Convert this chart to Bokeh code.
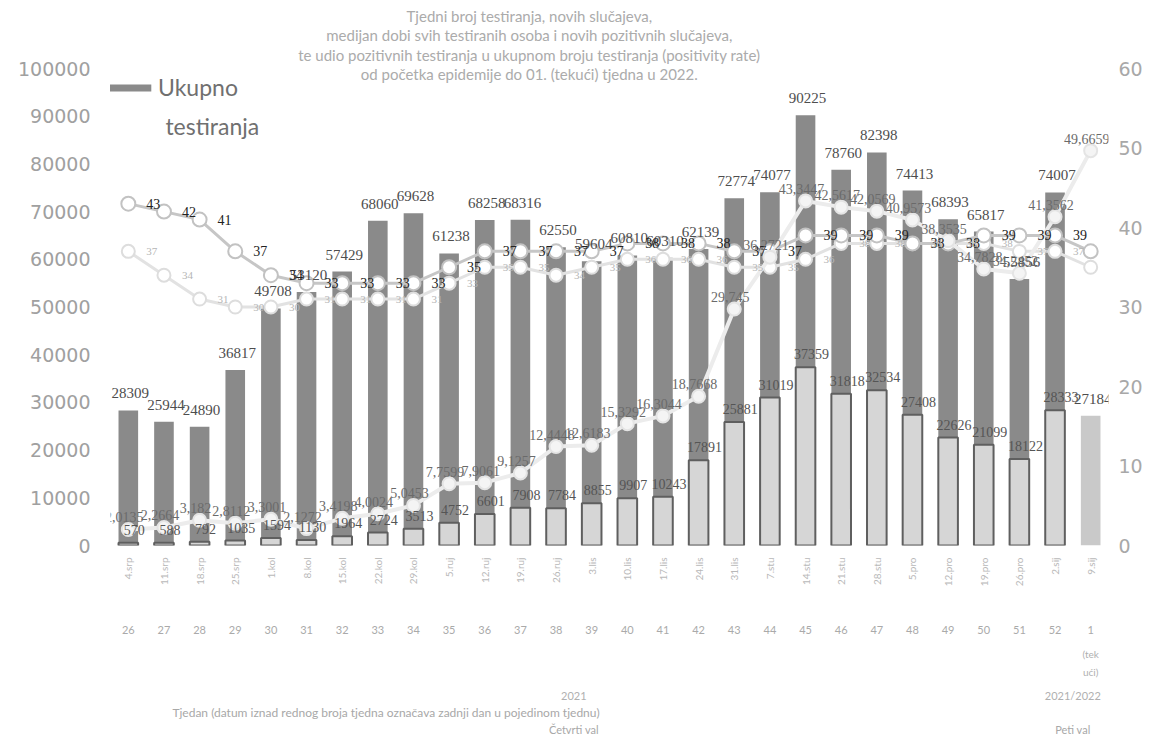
import math
from bokeh.plotting import figure
from bokeh.models import (ColumnDataSource, Range1d, LinearAxis, FixedTicker,
                          NumeralTickFormatter, Legend, LegendItem, Label, LabelSet)
from bokeh.embed import file_html
from bokeh.resources import INLINE

# ---------------- data ----------------
weeks = ["26", "27", "28", "29", "30", "31", "32", "33", "34", "35", "36", "37", "38", "39",
         "40", "41", "42", "43", "44", "45", "46", "47", "48", "49", "50", "51", "52", "1"]
dates = ["4.srp", "11.srp", "18.srp", "25.srp", "1.kol", "8.kol", "15.kol", "22.kol", "29.kol",
         "5.ruj", "12.ruj", "19.ruj", "26.ruj", "3.lis", "10.lis", "17.lis", "24.lis", "31.lis",
         "7.stu", "14.stu", "21.stu", "28.stu", "5.pro", "12.pro", "19.pro", "26.pro",
         "2.sij", "9.sij"]
total_tests = [28309, 25944, 24890, 36817, 49708, 53120, 57429, 68060, 69628, 61238, 68258,
               68316, 62550, 59604, 60810, 60310, 62139, 72774, 74077, 90225, 78760, 82398,
               74413, 68393, 65817, 55856, 74007, 27184]
new_cases = [570, 588, 792, 1035, 1594, 1130, 1964, 2724, 3513, 4752, 6601, 7908, 7784, 8855,
             9907, 10243, 17891, 25881, 31019, 37359, 31818, 32534, 27408, 22626, 21099, 18122,
             28333, None]
positivity = [2.0135, 2.2664, 3.1820, 2.8112, 3.3001, 2.1272, 3.4198, 4.0024, 5.0453, 7.7599,
              7.9061, 9.1257, 12.4448, 12.6183, 15.3292, 16.3044, 18.7668, 29.745, 36.2721,
              43.3447, 42.5617, 42.0569, 40.9573, 38.3535, 34.7828, 34.2452, 41.3562, 49.6659]
median_age_all = [43, 42, 41, 37, 34, 33, 33, 33, 33, 35, 37, 37, 37, 37, 38, 38, 38, 37, 37,
                  39, 39, 39, 38, 38, 39, 39, 39, 37]
median_age_pos = [37, 34, 31, 30, 30, 31, 31, 31, 31, 33, 35, 35, 34, 35, 36, 36, 36, 35, 35,
                  36, 38, 38, 38, 38, 38, 37, 37, 35]
current_week_index = 27

title_lines = ["Tjedni broj testiranja, novih slučajeva,",
               "medijan dobi svih testiranih osoba i novih pozitivnih slučajeva,",
               "te udio pozitivnih testiranja u ukupnom broju testiranja (positivity rate)",
               "od početka epidemije do 01. (tekući) tjedna u 2022."]
legend_words = ["Ukupno", "testiranja"]
group_years = ["2021", "2021/2022"]
group_waves = ["Četvrti val", "Peti val"]
x_title = "Tjedan (datum iznad rednog broja tjedna označava zadnji dan u pojedinom tjednu)"

# ---------------- sources ----------------
idx = list(range(len(weeks)))
tot_color = ["#c9c9c9" if i == current_week_index else "#8a8a8a" for i in idx]
src_tot = ColumnDataSource(dict(x=idx, top=total_tests, color=tot_color,
                                lab=[str(v) for v in total_tests]))
ci = [i for i in idx if new_cases[i] is not None]
src_cases = ColumnDataSource(dict(x=ci, top=[new_cases[i] for i in ci],
                                  lab=[str(new_cases[i]) for i in ci]))
src_pos = ColumnDataSource(dict(x=idx, y=positivity,
                                lab=[f"{v:.4f}".rstrip("0").replace(".", ",") for v in positivity]))
src_a = ColumnDataSource(dict(x=idx, y=median_age_all, lab=[str(v) for v in median_age_all]))
src_b = ColumnDataSource(dict(x=idx, y=median_age_pos, lab=[str(v) for v in median_age_pos]))

FRAME_BOTTOM = 545   # pixel row of value 0
PX_PER_100K = 477    # pixels between 0 and 100000
Y_TOP = 100000 * FRAME_BOTTOM / PX_PER_100K

def y_at(px):
    return (FRAME_BOTTOM - px) / PX_PER_100K * 100000

p = figure(width=1145, height=739, x_range=Range1d(-0.5, 27.5), y_range=Range1d(0, Y_TOP),
           output_backend="svg", toolbar_location=None,
           min_border_left=110, min_border_right=34, min_border_top=0, min_border_bottom=194)
p.outline_line_color = None
p.grid.grid_line_color = None
p.background_fill_color = "white"
p.border_fill_color = "white"
p.extra_y_ranges = {"r": Range1d(0, 60 * Y_TOP / 100000)}

NUMF = "Liberation Sans"
AXF = "DejaVu Sans"
TXTF = "Lato"

# bars
bars = p.vbar(x="x", top="top", width=0.55, source=src_tot, fill_color="color", line_color=None)
p.vbar(x="x", top="top", width=0.55, source=src_cases, fill_color="#d6d6d6",
       line_color="#5f5f5f", line_width=2)

# lines
p.line(x="x", y="y", source=src_b, y_range_name="r", line_color="#e2e2e2", line_width=3)
p.scatter(x="x", y="y", source=src_b, y_range_name="r", size=13, marker="circle",
          fill_color="white", line_color="#dddddd", line_width=2)
p.line(x="x", y="y", source=src_a, y_range_name="r", line_color="#c6c6c6", line_width=3)
p.scatter(x="x", y="y", source=src_a, y_range_name="r", size=14, marker="circle",
          fill_color="white", line_color="#c2c2c2", line_width=2)
p.line(x="x", y="y", source=src_pos, y_range_name="r", line_color="#ececec", line_width=4)
p.scatter(x="x", y="y", source=src_pos, y_range_name="r", size=13, marker="circle",
          fill_color="#f4f4f4", line_color="#e4e4e4", line_width=2)

# data labels
p.add_layout(LabelSet(x="x", y="top", text="lab", source=src_tot, text_align="center",
                      text_baseline="bottom", y_offset=12, x_offset=2, text_font=NUMF,
                      text_font_size="15px", text_color="#4d4d4d"))
p.add_layout(LabelSet(x="x", y="top", text="lab", source=src_cases, text_align="center",
                      text_baseline="bottom", y_offset=8, x_offset=6, text_font=NUMF,
                      text_font_size="14px", text_color="#555555"))
p.add_layout(LabelSet(x="x", y="y", text="lab", source=src_a, y_range_name="r",
                      text_align="left", text_baseline="middle", x_offset=18, text_font=NUMF,
                      text_font_size="14px", text_color="#222222"))
p.add_layout(LabelSet(x="x", y="y", text="lab", source=src_b, y_range_name="r",
                      text_align="left", text_baseline="middle", x_offset=18, text_font=NUMF,
                      text_font_size="11px", text_color="#b5b5b5"))
p.add_layout(LabelSet(x="x", y="y", text="lab", source=src_pos, y_range_name="r",
                      text_align="center", text_baseline="bottom", x_offset=-4, y_offset=7,
                      text_font=NUMF, text_font_size="14px", text_color="#6a6a6a"))

# title (inside the frame, above 100000)
for k, line in enumerate(title_lines):
    p.add_layout(Label(x=11.25, y=y_at(15 + 19.5 * k), text=line, text_align="center",
                       text_baseline="middle", text_font=TXTF, text_font_size="15px",
                       text_color="#ababab"))

# left axis
p.yaxis.ticker = FixedTicker(ticks=list(range(0, 100001, 10000)))
p.yaxis.formatter = NumeralTickFormatter(format="0")
p.yaxis.axis_line_color = None
p.yaxis.major_tick_line_color = None
p.yaxis.major_tick_out = 0
p.yaxis.major_tick_in = 0
p.yaxis.minor_tick_line_color = None
p.yaxis.major_label_standoff = 20
p.yaxis.major_label_text_font = AXF
p.yaxis.major_label_text_font_size = "19px"
p.yaxis.major_label_text_color = "#a0a0a0"

# right axis
ra = LinearAxis(y_range_name="r", ticker=FixedTicker(ticks=list(range(0, 61, 10))))
ra.axis_line_color = None
ra.major_tick_line_color = None
ra.major_tick_out = 0
ra.major_tick_in = 0
ra.minor_tick_line_color = None
ra.major_label_standoff = 10
ra.major_label_text_font = AXF
ra.major_label_text_font_size = "19px"
ra.major_label_text_color = "#a8a8a8"
p.add_layout(ra, "right")

# bottom axes
def style(ax, size, color, standoff, font=TXTF):
    ax.axis_line_color = None
    ax.major_tick_line_color = None
    ax.major_tick_out = 0
    ax.major_tick_in = 0
    ax.minor_tick_line_color = None
    ax.major_label_standoff = standoff
    ax.major_label_text_font = font
    ax.major_label_text_font_size = size
    ax.major_label_text_color = color

xa = p.xaxis[0]
xa.ticker = FixedTicker(ticks=idx)
xa.major_label_overrides = {i: d for i, d in zip(idx, dates)}
xa.major_label_orientation = math.pi / 2
style(xa, "10px", "#b8b8b8", 12)

def add_row(ticks, labels, size, color, standoff):
    ax = LinearAxis(ticker=FixedTicker(ticks=ticks),
                    major_label_overrides={t: l for t, l in zip(ticks, labels)})
    style(ax, size, color, standoff)
    p.add_layout(ax, "below")

add_row(idx, weeks, "11px", "#aaaaaa", 36)
add_row([current_week_index], ["(tek"], "10px", "#b0b0b0", 11)
add_row([current_week_index], ["ući)"], "10px", "#b0b0b0", 3)
add_row([12.5, 26.5], group_years, "11px", "#b0b0b0", 8)
add_row([7.23], [x_title], "12px", "#a8a8a8", 0)
add_row([12.5, 26.5], group_waves, "11px", "#a8a8a8", 0)

# legend
legend = Legend(items=[LegendItem(label=legend_words[0], renderers=[bars])],
                location=(-24, 444), label_text_font=TXTF, label_text_font_size="23px",
                label_text_color="#707070", glyph_width=72, glyph_height=9,
                label_standoff=-19,
                background_fill_alpha=0, border_line_color=None, padding=4, spacing=0)
p.add_layout(legend)
p.add_layout(Label(x=1.04, y=y_at(125), text=legend_words[1], text_align="left",
                   text_baseline="middle", text_font=TXTF, text_font_size="23px",
                   text_color="#707070"))

open("out.html", "w").write(file_html(p, INLINE))
